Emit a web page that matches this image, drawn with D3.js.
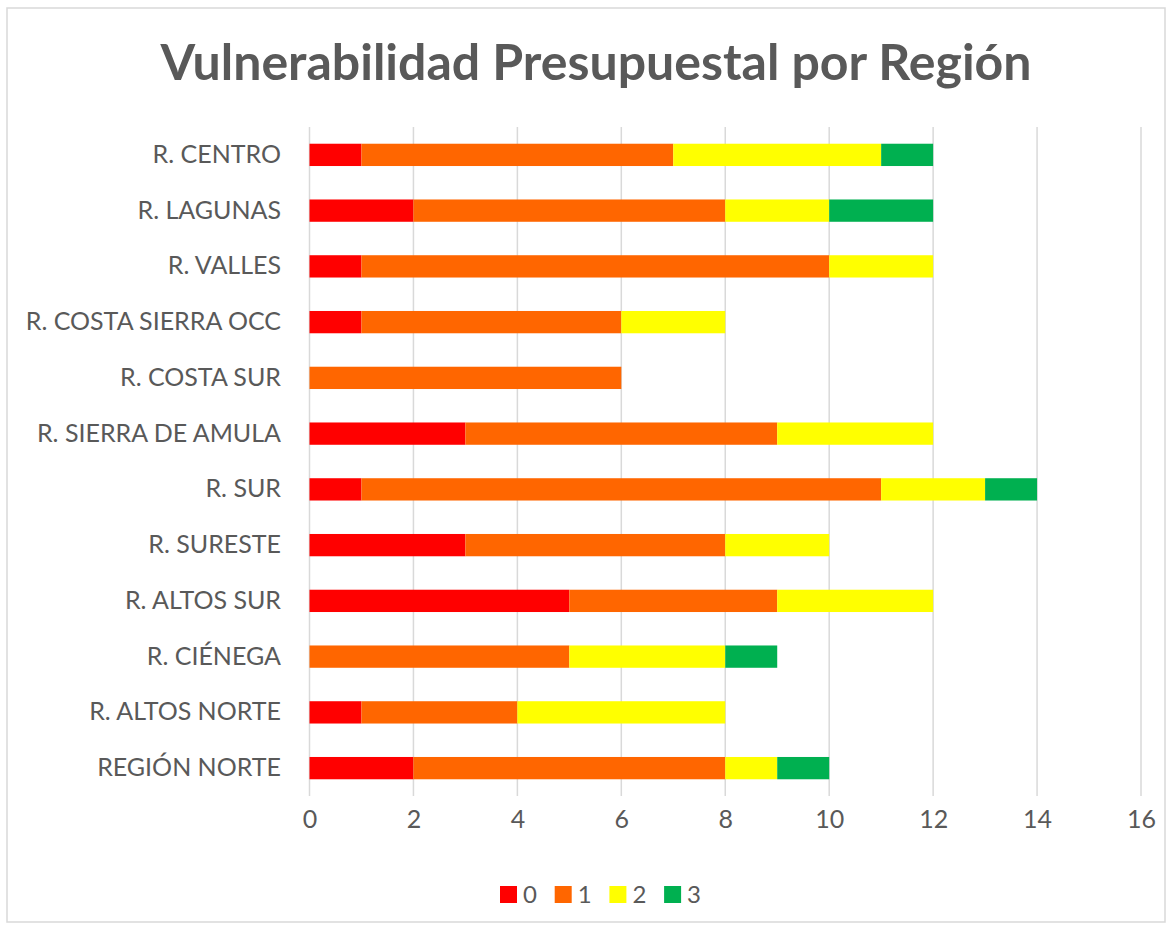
<!DOCTYPE html>
<html><head><meta charset="utf-8">
<script src="https://cdn.jsdelivr.net/npm/d3@7"></script>
<style>body{margin:0;background:#fff;} text{font-family:Lato,"Open Sans",sans-serif;}</style>
</head><body>
<svg id="c" width="1172" height="928"></svg>
<script>
const categories = ["R. CENTRO","R. LAGUNAS","R. VALLES","R. COSTA SIERRA OCC","R. COSTA SUR","R. SIERRA DE AMULA","R. SUR","R. SURESTE","R. ALTOS SUR","R. CIÉNEGA","R. ALTOS NORTE","REGIÓN NORTE"];
const seriesNames = ["0","1","2","3"];
const s0 = [1,2,1,1,0,3,1,3,5,0,1,2];
const s1 = [6,6,9,5,6,6,10,5,4,5,3,6];
const s2 = [4,2,2,2,0,3,2,2,3,3,4,1];
const s3 = [1,2,0,0,0,0,1,0,0,1,0,1];
const colors = ["#FF0000","#FF6600","#FFFF00","#00B050"];
const xTicks = [0,2,4,6,8,10,12,14,16];
const title = "Vulnerabilidad Presupuestal por Región";

const svg = d3.select("#c");
svg.append("rect").attr("x",7).attr("y",8).attr("width",1158).attr("height",914)
  .attr("fill","#fff").attr("stroke","#d9d9d9").attr("stroke-width",1.5);

const x = d3.scaleLinear().domain([0,16]).range([309.5,1141]);
const y = d3.scaleBand().domain(categories).range([127,796]).paddingInner(0.6).paddingOuter(0.3);

svg.append("g").selectAll("line").data(xTicks).join("line")
  .attr("x1",d=>x(d)).attr("x2",d=>x(d)).attr("y1",127).attr("y2",796)
  .attr("stroke","#d9d9d9").attr("stroke-width",1.5);

const rows = categories.map((c,i)=>({cat:c,"0":s0[i],"1":s1[i],"2":s2[i],"3":s3[i]}));
const stack = d3.stack().keys(seriesNames)(rows);
svg.append("g").selectAll("g").data(stack).join("g").attr("fill",(d,i)=>colors[i])
  .selectAll("rect").data(d=>d.filter(e=>e[1]>e[0])).join("rect")
  .attr("x",d=>x(d[0])).attr("width",d=>x(d[1])-x(d[0]))
  .attr("y",d=>y(d.data.cat)).attr("height",y.bandwidth());

const xa = svg.append("g").attr("transform","translate(0,796)")
  .call(d3.axisBottom(x).tickValues(xTicks).tickSize(0).tickPadding(14).tickFormat(d3.format("d")));
xa.select(".domain").remove();
xa.selectAll("text").attr("font-size",25).attr("fill","#595959").style("font-family","Lato,sans-serif");

const ya = svg.append("g").attr("transform","translate(309,0)")
  .call(d3.axisLeft(y).tickSize(0).tickPadding(28));
ya.select(".domain").remove();
ya.selectAll("text").attr("font-size",25).attr("fill","#595959").style("font-family","Lato,sans-serif");

svg.append("text").attr("x",596).attr("y",80).attr("text-anchor","middle")
  .attr("font-size",50).attr("font-weight","bold").attr("fill","#595959").text(title);

const lg = svg.append("g").attr("transform","translate(500,0)");
seriesNames.forEach((n,i)=>{
  const g = lg.append("g").attr("transform",`translate(${i*54.7},0)`);
  g.append("rect").attr("x",0).attr("y",886).attr("width",17).attr("height",17).attr("fill",colors[i]);
  g.append("text").attr("x",23).attr("y",903).attr("font-size",24).attr("fill","#595959").text(n);
});
</script>
</body></html>
